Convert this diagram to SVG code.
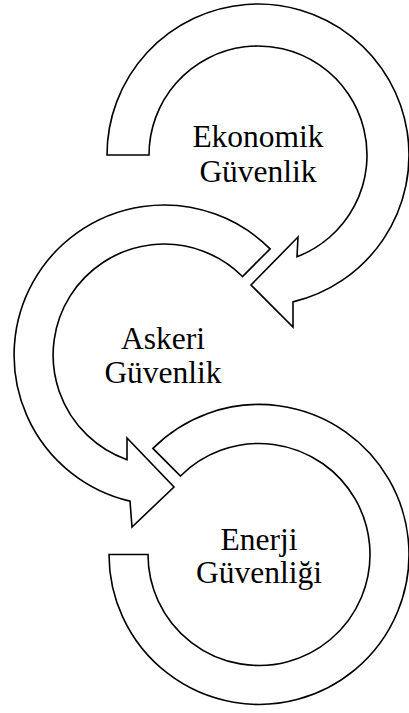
<svg xmlns="http://www.w3.org/2000/svg" width="409" height="713" viewBox="0 0 409 713">
<style>
.arrow{fill:#fff;stroke:#000;stroke-width:1.6;stroke-linejoin:miter}
.lbl{font-family:"Liberation Serif","Times New Roman",serif;font-size:31.5px;fill:#000;text-anchor:middle}
</style>
<rect width="409" height="713" fill="#fff"/>
<g id="connectors"></g>
<g id="node-ekonomik">
<path class="arrow" d="M107,155 A151,151 0 1 1 293,301.9 L293,327 L251,285 L298,237 L297,256.8 A109,109 0 1 0 149,155 Z"/>
<text class="lbl" x="258" y="147">Ekonomik</text>
<text class="lbl" x="258" y="182">Güvenlik</text>
</g>
<g id="node-askeri">
<path class="arrow" d="M270.1,248.9 A150,150 0 1 0 130,501.1 L132,527 L174,487 L127,438 L127,459.7 A111,111 0 1 1 242.5,276.5 Z"/>
<text class="lbl" x="163" y="349">Askeri</text>
<text class="lbl" x="163" y="383">Güvenlik</text>
</g>
<g id="node-enerji">
<path class="arrow" d="M109,554.5 A150,150 0 1 0 152.9,448.4 L180.5,476 A111,111 0 1 1 148,554.5 Z"/>
<text class="lbl" x="259" y="550">Enerji</text>
<text class="lbl" x="259" y="583">Güvenliği</text>
</g>
</svg>
